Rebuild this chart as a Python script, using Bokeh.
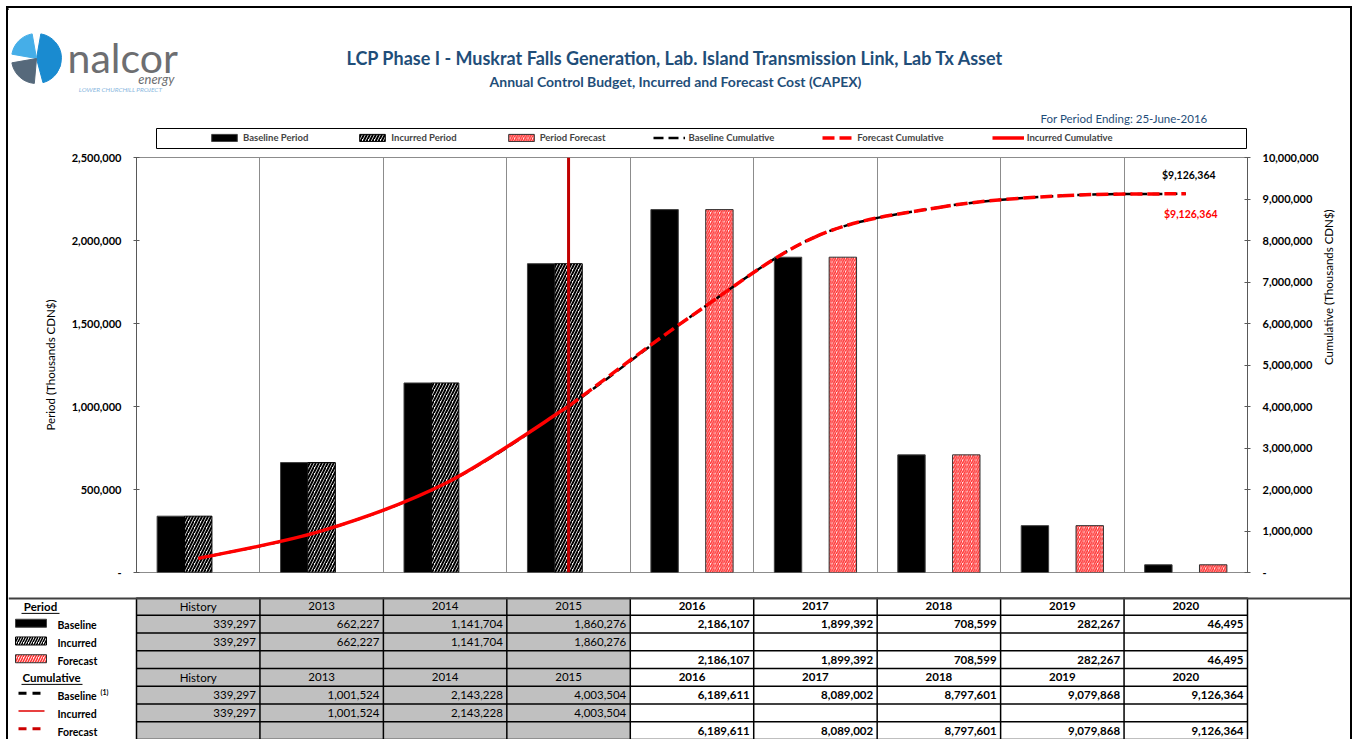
import math
from bokeh.plotting import figure
from bokeh.models import (Range1d, LinearAxis, FixedTicker, NumeralTickFormatter, Span, Label,
                          Legend, LegendItem, ColumnDataSource, Plot)
from bokeh.layouts import column
from bokeh.transform import dodge
from bokeh.embed import file_html
from bokeh.resources import INLINE
from bokeh.core.properties import value

# ---------------- data ----------------
categories = ["History", "2013", "2014", "2015", "2016", "2017", "2018", "2019", "2020"]
baseline_period = [339297, 662227, 1141704, 1860276, 2186107, 1899392, 708599, 282267, 46495]
incurred_period = [339297, 662227, 1141704, 1860276]            # History .. 2015
forecast_period = [2186107, 1899392, 708599, 282267, 46495]      # 2016 .. 2020
baseline_cum = [339297, 1001524, 2143228, 4003504, 6189611, 8089002, 8797601, 9079868, 9126364]
incurred_cum = [339297, 1001524, 2143228, 4003504]               # History .. 2015
forecast_cum = [6189611, 8089002, 8797601, 9079868, 9126364]     # 2016 .. 2020
period_ticks = [0, 500000, 1000000, 1500000, 2000000, 2500000]
cum_ticks = [0, 1000000, 2000000, 3000000, 4000000, 5000000, 6000000, 7000000, 8000000, 9000000, 10000000]
period_ending = "25-June-2016"
title_text = "LCP Phase I - Muskrat Falls Generation, Lab. Island Transmission Link, Lab Tx Asset"
subtitle_text = "Annual Control Budget, Incurred and Forecast Cost (CAPEX)"
legend_labels = ["Baseline Period", "Incurred Period", "Period Forecast",
                 "Baseline Cumulative", "Forecast Cumulative", "Incurred Cumulative"]

n = len(categories)
n_hist = len(incurred_period)
idx_all = list(range(n))
idx_inc = list(range(n_hist))
idx_fc = list(range(n_hist, n))

FONT = "Lato"
BLUE = "#1F4E79"
W = 1342
HAS_FA = "frame_align" in Plot.properties()

# styles shared by chart marks and legend swatches
BASE_BAR = dict(fill_color="black", line_color="#404040", line_width=1)
INC_BAR = dict(fill_color="white", line_color="black", line_width=1,
               hatch_pattern="/", hatch_color="black", hatch_scale=6, hatch_weight=2)
FC_BAR = dict(fill_color="#fff2f2", line_color="#303030", line_width=1,
              hatch_pattern="/", hatch_color="#ff3030", hatch_scale=4.5, hatch_weight=1.5)
BCUM = dict(line_color="black", line_width=2.5, line_dash="10 5")
ICUM = dict(line_color="#ff0000", line_width=3.5)
FCUM = dict(line_color="#ff0000", line_width=3.5, line_dash="12 5")

# ---------------- header (logo + titles + legend) ----------------
HH = 141
header = figure(width=W, height=HH, x_range=Range1d(0, W), y_range=Range1d(HH, 0),
                output_backend="svg", toolbar_location=None, min_border=0)
header.axis.visible = False
header.grid.visible = False
header.outline_line_color = None
if HAS_FA:
    header.frame_align = False

header.wedge(x=[28], y=[50], radius=25, start_angle=math.radians(-75), end_angle=math.radians(80),
             color="#1A8BD0")
header.wedge(x=[28], y=[50], radius=25, start_angle=math.radians(100), end_angle=math.radians(170),
             color="#45AEE8")
header.wedge(x=[28], y=[50], radius=25, start_angle=math.radians(190), end_angle=math.radians(265),
             color="#56697B")
header.text(x=[59], y=[49], text=["nalcor"], text_font=value(FONT), text_font_size="41px",
            text_color="#6D6E71", text_baseline="middle", text_align="left")
header.text(x=[166], y=[70], text=["energy"], text_font=value(FONT), text_font_size="13px",
            text_font_style="italic", text_color="#6D6E71", text_baseline="middle", text_align="right")
header.text(x=[112], y=[81], text=["LOWER CHURCHILL PROJECT"], text_font=value(FONT), text_font_size="6.5px",
            text_font_style="italic", text_color="#8AB8E0", text_baseline="middle", text_align="center")

header.text(x=[667], y=[49], text=[title_text], text_font=value(FONT), text_font_size="18px",
            text_font_style="bold", text_color=BLUE, text_baseline="middle", text_align="center")
header.text(x=[667], y=[73], text=[subtitle_text], text_font=value(FONT), text_font_size="14px",
            text_font_style="bold", text_color=BLUE, text_baseline="middle", text_align="center")
header.text(x=[1199], y=[110], text=["For Period Ending: " + period_ending], text_font=value(FONT),
            text_font_size="11.5px", text_color=BLUE, text_baseline="middle", text_align="right")

# legend box and swatch renderers (one point placed off-canvas: they only carry the styles)
header.quad(left=[148], right=[1238], top=[120], bottom=[140], fill_color="white", line_color="black",
            line_width=1)
lg_b = header.vbar(x=[-500], top=[1], width=1, **BASE_BAR)
lg_i = header.vbar(x=[-500], top=[1], width=1, **INC_BAR)
lg_f = header.vbar(x=[-500], top=[1], width=1, **FC_BAR)
lg_bc = header.line(x=[-500, -499], y=[0, 0], **BCUM)
lg_fc = header.line(x=[-500, -499], y=[0, 0], **FCUM)
lg_ic = header.line(x=[-500, -499], y=[0, 0], **ICUM)
legend = Legend(items=[LegendItem(label=lab, renderers=[r]) for lab, r in
                       zip(legend_labels, [lg_b, lg_i, lg_f, lg_bc, lg_fc, lg_ic])],
                orientation="horizontal", location=(196, 2), glyph_width=32, glyph_height=9,
                label_standoff=3, spacing=48, padding=4, margin=0, label_height=12,
                label_text_font=FONT, label_text_font_size="9.5px", label_text_font_style="bold",
                border_line_alpha=0, background_fill_alpha=0)
header.add_layout(legend, "center")

# ---------------- chart ----------------
chart = figure(width=W, height=448, x_range=Range1d(-0.5, n - 0.5), y_range=Range1d(0, period_ticks[-1]),
               output_backend="svg", toolbar_location=None,
               min_border_left=128, min_border_right=103, min_border_top=8, min_border_bottom=25)
if HAS_FA:
    chart.frame_align = False
chart.extra_y_ranges = {"cum": Range1d(0, cum_ticks[-1])}
chart.xaxis.visible = False
chart.ygrid.visible = False
chart.xgrid.ticker = FixedTicker(ticks=[i + 0.5 for i in range(n - 1)])
chart.xgrid.grid_line_color = "#8c8c8c"
chart.xgrid.grid_line_width = 1
chart.outline_line_color = "#8c8c8c"
chart.background_fill_color = "white"

ya = chart.yaxis[0]
ya.ticker = FixedTicker(ticks=period_ticks)
ya.formatter = NumeralTickFormatter(format="0,0")
ya.major_label_overrides = {0: "-"}
ya.axis_label = "Period (Thousands CDN$)"

ra = LinearAxis(y_range_name="cum", ticker=FixedTicker(ticks=cum_ticks),
                formatter=NumeralTickFormatter(format="0,0"), axis_label="Cumulative (Thousands CDN$)")
ra.major_label_overrides = {0: "-"}
chart.add_layout(ra, "right")
try:
    ra.axis_label_orientation = math.pi / 2
except Exception:
    pass

for ax in (ya, ra):
    ax.axis_line_color = "#595959"
    ax.major_tick_line_color = "#595959"
    ax.major_tick_in = 3
    ax.major_tick_out = 3
    ax.minor_tick_line_color = None
    ax.major_label_text_font = FONT
    ax.major_label_text_font_style = "bold"
    ax.major_label_text_font_size = "11px"
    ax.major_label_text_color = "black"
    ax.major_label_standoff = 12
    ax.axis_label_text_font = FONT
    ax.axis_label_text_font_size = "11.5px"
    ax.axis_label_text_font_style = "normal"
    ax.axis_label_text_color = "black"
    ax.axis_label_standoff = 12
ra.axis_label_standoff = 7

BAR_W = 0.222
src_b = ColumnDataSource(dict(x=idx_all, top=baseline_period))
src_i = ColumnDataSource(dict(x=idx_inc, top=incurred_period))
src_f = ColumnDataSource(dict(x=idx_fc, top=forecast_period))

chart.vbar(x=dodge("x", -BAR_W, range=chart.x_range), top="top", width=BAR_W, source=src_b, **BASE_BAR)
chart.vbar(x=dodge("x", 0, range=chart.x_range), top="top", width=BAR_W, source=src_i, **INC_BAR)
chart.vbar(x=dodge("x", BAR_W, range=chart.x_range), top="top", width=BAR_W, source=src_f, **FC_BAR)


def smooth_segments(xv, yv):
    """Bezier segments through the given data points (spreadsheet-style smoothed line)."""
    k = len(xv)
    d = dict(x0=[], y0=[], x1=[], y1=[], cx0=[], cy0=[], cx1=[], cy1=[])
    for i in range(k - 1):
        xa, ya_ = xv[max(i - 1, 0)], yv[max(i - 1, 0)]
        xb, yb = xv[i], yv[i]
        xc, yc = xv[i + 1], yv[i + 1]
        xd, yd = xv[min(i + 2, k - 1)], yv[min(i + 2, k - 1)]
        d["x0"].append(xb); d["y0"].append(yb)
        d["x1"].append(xc); d["y1"].append(yc)
        d["cx0"].append(xb + (xc - xa) / 6); d["cy0"].append(yb + (yc - ya_) / 6)
        d["cx1"].append(xc - (xd - xb) / 6); d["cy1"].append(yc - (yd - yb) / 6)
    return ColumnDataSource(d)


BZ = dict(x0="x0", y0="y0", x1="x1", y1="y1", cx0="cx0", cy0="cy0", cx1="cx1", cy1="cy1", y_range_name="cum")
chart.bezier(source=smooth_segments(idx_all, baseline_cum), **BZ, **BCUM)
chart.bezier(source=smooth_segments(idx_inc, incurred_cum), **BZ, **ICUM)
chart.bezier(source=smooth_segments([idx_inc[-1]] + idx_fc, [incurred_cum[-1]] + forecast_cum), **BZ, **FCUM)

chart.add_layout(Span(location=idx_inc[-1], dimension="height", line_color="#C00000", line_width=3))

chart.add_layout(Label(x=idx_all[-1], y=baseline_cum[-1], y_range_name="cum", text=f"${baseline_cum[-1]:,}",
                       x_offset=3, y_offset=19, text_align="center", text_baseline="middle",
                       text_font=FONT, text_font_size="10.5px", text_font_style="bold", text_color="black"))
chart.add_layout(Label(x=idx_all[-1], y=forecast_cum[-1], y_range_name="cum", text=f"${forecast_cum[-1]:,}",
                       x_offset=5, y_offset=-20, text_align="center", text_baseline="middle",
                       text_font=FONT, text_font_size="10.5px", text_font_style="bold", text_color="#ff0000"))

# ---------------- table ----------------
TH = 142
rows = 8
cw = 1111 / n
xs = -0.5 - 128 / cw
xe = xs + W / cw
table = figure(width=W, height=TH, x_range=Range1d(xs, xe), y_range=Range1d(rows, 0),
               output_backend="svg", toolbar_location=None, min_border=0)
if HAS_FA:
    table.frame_align = False
table.axis.visible = False
table.grid.visible = False
table.outline_line_color = None


def px(X):
    return xs + (X - 8) / cw


ry = TH / rows  # px per row

table.quad(left=[-0.5], right=[n_hist - 0.5], top=[0], bottom=[rows], fill_color="#C0C0C0", line_color=None)
table.multi_line(xs=[[-0.5, n - 0.5] for _ in range(rows + 1)], ys=[[r, r] for r in range(rows + 1)],
                 line_color="black", line_width=1.5)
table.multi_line(xs=[[c - 0.5, c - 0.5] for c in range(n + 1)], ys=[[0, rows] for _ in range(n + 1)],
                 line_color="black", line_width=1.5)
table.segment(x0=[xs], x1=[xe], y0=[0], y1=[0], line_color="#404040", line_width=4)

TFS = "11.5px"


def table_text(xv, yv, texts, align, bold):
    table.text(x=xv, y=yv, text=texts, text_font=value(FONT), text_font_size=TFS,
               text_font_style="bold" if bold else "normal", text_color="black",
               text_align=align, text_baseline="middle")


for r in (0, 4):
    table_text(idx_inc, [r + 0.5] * n_hist, categories[:n_hist], "center", False)
    table_text(idx_fc, [r + 0.5] * len(idx_fc), categories[n_hist:], "center", True)

pad = 4 / cw


def value_row(r, idxs, vals):
    g = [(i, v) for i, v in zip(idxs, vals) if i < n_hist]
    w = [(i, v) for i, v in zip(idxs, vals) if i >= n_hist]
    if g:
        table_text([i + 0.5 - pad for i, _ in g], [r + 0.5] * len(g), [f"{v:,}" for _, v in g], "right", False)
    if w:
        table_text([i + 0.5 - pad for i, _ in w], [r + 0.5] * len(w), [f"{v:,}" for _, v in w], "right", True)


value_row(1, idx_all, baseline_period)
value_row(2, idx_inc, incurred_period)
value_row(3, idx_fc, forecast_period)
value_row(5, idx_all, baseline_cum)
value_row(6, idx_inc, incurred_cum)
value_row(7, idx_fc, forecast_cum)

# label column
table.text(x=[px(40)], y=[0.5], text=["Period"], text_font=value(FONT), text_font_size="11.5px",
           text_font_style="bold", text_align="center", text_baseline="middle")
table.segment(x0=[px(21)], x1=[px(59)], y0=[0.5 + 7 / ry], y1=[0.5 + 7 / ry], line_color="black", line_width=1)
table.text(x=[px(51)], y=[4.5], text=["Cumulative"], text_font=value(FONT), text_font_size="11.5px",
           text_font_style="bold", text_align="center", text_baseline="middle")
table.segment(x0=[px(21)], x1=[px(82)], y0=[4.5 + 7 / ry], y1=[4.5 + 7 / ry], line_color="black", line_width=1)

sh = 4 / ry
table.quad(left=[px(15)], right=[px(46)], top=[1.45 - sh], bottom=[1.45 + sh], **BASE_BAR)
table.quad(left=[px(15)], right=[px(46)], top=[2.45 - sh], bottom=[2.45 + sh],
           **dict(INC_BAR, hatch_scale=5, hatch_weight=1.5))
table.quad(left=[px(15)], right=[px(46)], top=[3.45 - sh], bottom=[3.45 + sh],
           **dict(FC_BAR, hatch_scale=5, hatch_weight=1.5))
table.segment(x0=[px(18)], x1=[px(44)], y0=[5.4], y1=[5.4], line_color="black", line_width=3, line_dash="8 6")
table.segment(x0=[px(18)], x1=[px(44)], y0=[6.4], y1=[6.4], line_color="#e00000", line_width=1.5)
table.segment(x0=[px(18)], x1=[px(44)], y0=[7.4], y1=[7.4], line_color="#cc0000", line_width=3, line_dash="8 6")

for r, lab in ((1, "Baseline"), (2, "Incurred"), (3, "Forecast"), (5, "Baseline"), (6, "Incurred"), (7, "Forecast")):
    table.text(x=[px(57)], y=[r + 0.55], text=[lab], text_font=value(FONT), text_font_size="10.5px",
               text_font_style="bold", text_align="left", text_baseline="middle")
table.text(x=[px(100)], y=[5.3], text=["(1)"], text_font=value(FONT), text_font_size="7px",
           text_font_style="bold", text_align="left", text_baseline="middle")

layout = column(header, chart, table,
                styles={"margin": "6px 0 0 6px",
                        "border-top": "2px solid black", "border-left": "2px solid black",
                        "border-right": "2px solid black"})

open("out.html", "w").write(file_html(layout, INLINE))
